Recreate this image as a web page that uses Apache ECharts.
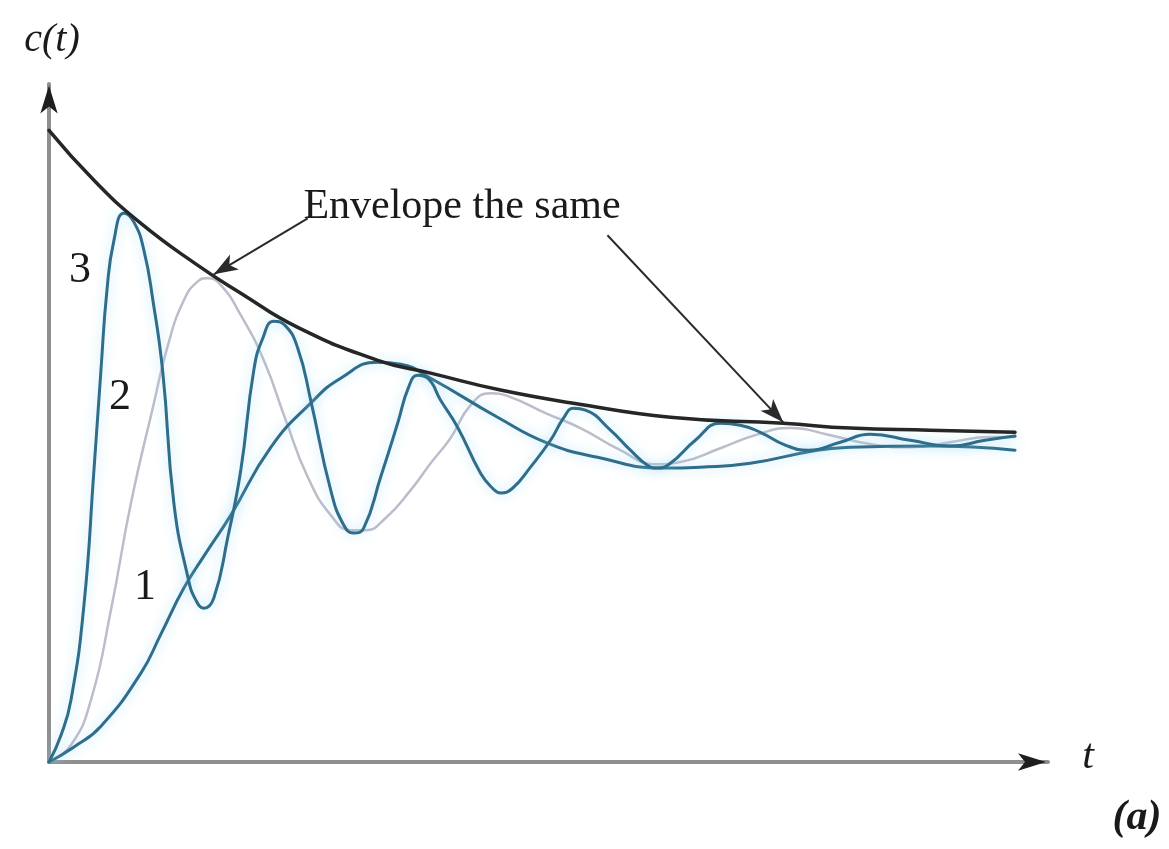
<!DOCTYPE html>
<html>
<head>
<meta charset="utf-8">
<script src="https://cdn.jsdelivr.net/npm/echarts@6/dist/echarts.min.js"></script>
<style>
  html, body { margin: 0; padding: 0; background: #ffffff; }
  #chart { width: 1169px; height: 849px; }
</style>
</head>
<body>
<div id="chart"></div>
<script>
// Step responses c(t) sharing one decay envelope, as [t, c] pairs.
const envelope = [
  [0, 1.975], [0.45, 1.819], [0.92, 1.684], [1.49, 1.553], [1.92, 1.466],
  [2.49, 1.359], [3.29, 1.256], [3.82, 1.216], [4.52, 1.163], [5.25, 1.122],
  [6.22, 1.078], [7.35, 1.059], [8.02, 1.044], [8.82, 1.0375], [9.67, 1.031]
];

// Response 1: slowest oscillation
const response1 = [
  [0, 0], [0.25, 0.047], [0.52, 0.112], [0.92, 0.278], [1.12, 0.400],
  [1.35, 0.544], [1.57, 0.653], [1.82, 0.772], [2.22, 0.984], [2.62, 1.122],
  [2.92, 1.2], [3.29, 1.25], [3.52, 1.244], [3.82, 1.2], [4.49, 1.078],
  [4.99, 0.997], [5.49, 0.953], [6.15, 0.919], [6.52, 0.922], [7.02, 0.934],
  [7.69, 0.975], [8.02, 0.984], [8.82, 0.988], [9.67, 0.975]
];

// Response 2: medium oscillation
const response2 = [
  [0, 0], [0.22, 0.053], [0.42, 0.194], [0.62, 0.475], [0.82, 0.809],
  [1.05, 1.122], [1.19, 1.303], [1.35, 1.444], [1.49, 1.503], [1.59, 1.513],
  [1.72, 1.491], [1.92, 1.397], [2.15, 1.256], [2.37, 1.069], [2.59, 0.891],
  [2.82, 0.772], [3.02, 0.725], [3.17, 0.725], [3.37, 0.763], [3.62, 0.85],
  [3.82, 0.934], [4.02, 1.013], [4.22, 1.116], [4.42, 1.153], [4.62, 1.141],
  [4.97, 1.091], [5.32, 1.044], [5.72, 0.975], [6.07, 0.931], [6.32, 0.938],
  [6.72, 0.981], [7.07, 1.022], [7.42, 1.044], [7.82, 1.022], [8.22, 0.994],
  [8.62, 0.984], [9.02, 1.0], [9.42, 1.016], [9.67, 1.016]
];

// Response 3: fastest oscillation
const response3 = [
  [0, 0], [0.12, 0.084], [0.22, 0.194], [0.35, 0.491], [0.45, 0.913],
  [0.52, 1.225], [0.58, 1.475], [0.65, 1.631], [0.75, 1.716], [0.85, 1.688],
  [0.95, 1.6], [1.04, 1.444], [1.14, 1.216], [1.25, 0.809], [1.39, 0.578],
  [1.47, 0.506], [1.55, 0.481], [1.65, 0.513], [1.79, 0.703], [1.92, 0.913],
  [2.05, 1.225], [2.14, 1.325], [2.25, 1.378], [2.36, 1.366], [2.49, 1.294],
  [2.62, 1.131], [2.82, 0.85], [2.95, 0.741], [3.05, 0.716], [3.15, 0.731],
  [3.32, 0.891], [3.49, 1.059], [3.60, 1.172], [3.69, 1.209], [3.79, 1.2],
  [3.92, 1.131], [4.09, 1.047], [4.32, 0.903], [4.44, 0.856], [4.52, 0.841],
  [4.64, 0.856], [4.82, 0.922], [5.02, 1.006], [5.15, 1.075], [5.25, 1.106],
  [5.37, 1.1], [5.62, 1.038], [5.82, 0.975], [5.99, 0.928], [6.09, 0.919],
  [6.22, 0.934], [6.47, 1.006], [6.72, 1.059], [6.92, 1.053], [7.12, 1.031],
  [7.37, 0.991], [7.60, 0.975], [7.92, 1.0], [8.22, 1.025], [8.62, 1.006],
  [9.02, 0.988], [9.37, 1.006], [9.67, 1.019]
];

// Curve numbers and annotation text
const curveLabels = ['1', '2', '3'];
const noteText = 'Envelope the same';
const yAxisName = 'c(t)';
const xAxisName = 't';
const panelTag = '(a)';

// Pointer arrows from the note to the envelope: [from, to] in data units
const notePointers = [
  [[2.59, 1.70], [1.65, 1.525]],
  [[5.59, 1.647], [7.35, 1.062]]
];

const serif = '"Liberation Serif", "DejaVu Serif", serif';
const blue = '#2f6d8b';
const haze = 'rgba(150, 220, 245, 0.75)';

const chart = echarts.init(document.getElementById('chart'), null, { renderer: 'canvas' });

function curve(name, data, color, width, glow) {
  return {
    name: name,
    type: 'line',
    data: data,
    smooth: 0.5,
    showSymbol: false,
    silent: true,
    lineStyle: Object.assign(
      { color: color, width: width, cap: 'round', join: 'round' },
      glow ? { shadowColor: haze, shadowBlur: 12 } : {}
    ),
    z: glow ? 4 : 3
  };
}

const axisArrow = {
  symbol: 'arrow',
  symbolSize: [13, 28],
  itemStyle: { color: '#1e1e1e' },
  label: { show: false }
};

const option = {
  animation: false,
  backgroundColor: '#ffffff',
  grid: { left: 49, right: 121, top: 84, bottom: 87 },
  xAxis: {
    type: 'value', min: 0, max: 10,
    axisLine: { show: true, onZero: false, lineStyle: { color: '#8f8f8f', width: 4 } },
    axisTick: { show: false }, axisLabel: { show: false }, splitLine: { show: false }
  },
  yAxis: {
    type: 'value', min: 0, max: 2.12,
    axisLine: { show: true, onZero: false, lineStyle: { color: '#8f8f8f', width: 4 } },
    axisTick: { show: false }, axisLabel: { show: false }, splitLine: { show: false }
  },
  series: [
    curve('2', response2, '#bdbccb', 2.5, false),
    curve('1', response1, blue, 3, true),
    curve('3', response3, blue, 3, true),
    Object.assign(curve('envelope', envelope, '#262626', 3.5, false), {
      z: 5,
      markLine: {
        silent: true,
        symbol: ['none', 'arrow'],
        symbolSize: [13, 24],
        label: { show: false },
        lineStyle: { color: '#2a2a2a', width: 2, type: 'solid' },
        data: notePointers.map(p => [{ coord: p[0] }, { coord: p[1] }])
      },
      markPoint: {
        silent: true,
        data: [
          Object.assign({ coord: [9.98, 0], symbolRotate: -90 }, axisArrow),
          Object.assign({ coord: [0, 2.115], symbolRotate: 0 }, axisArrow)
        ]
      }
    })
  ],
  graphic: [
    { type: 'text', x: 52, y: 40, style: { text: yAxisName, font: 'italic 40px ' + serif, fill: '#1a1a1a', textAlign: 'center', textVerticalAlign: 'middle' } },
    { type: 'text', x: 80, y: 270, style: { text: curveLabels[2], font: '44px ' + serif, fill: '#1a1a1a', textAlign: 'center', textVerticalAlign: 'middle' } },
    { type: 'text', x: 120, y: 397, style: { text: curveLabels[1], font: '44px ' + serif, fill: '#1a1a1a', textAlign: 'center', textVerticalAlign: 'middle' } },
    { type: 'text', x: 145, y: 587, style: { text: curveLabels[0], font: '44px ' + serif, fill: '#1a1a1a', textAlign: 'center', textVerticalAlign: 'middle' } },
    { type: 'text', x: 462, y: 207, style: { text: noteText, font: '42px ' + serif, fill: '#1a1a1a', textAlign: 'center', textVerticalAlign: 'middle' } },
    { type: 'text', x: 1088, y: 757, style: { text: xAxisName, font: 'italic 42px ' + serif, fill: '#1a1a1a', textAlign: 'center', textVerticalAlign: 'middle' } },
    { type: 'text', x: 1137, y: 818, style: { text: panelTag, font: 'italic bold 42px ' + serif, fill: '#1a1a1a', textAlign: 'center', textVerticalAlign: 'middle' } }
  ]
};

chart.setOption(option);
</script>
</body>
</html>
